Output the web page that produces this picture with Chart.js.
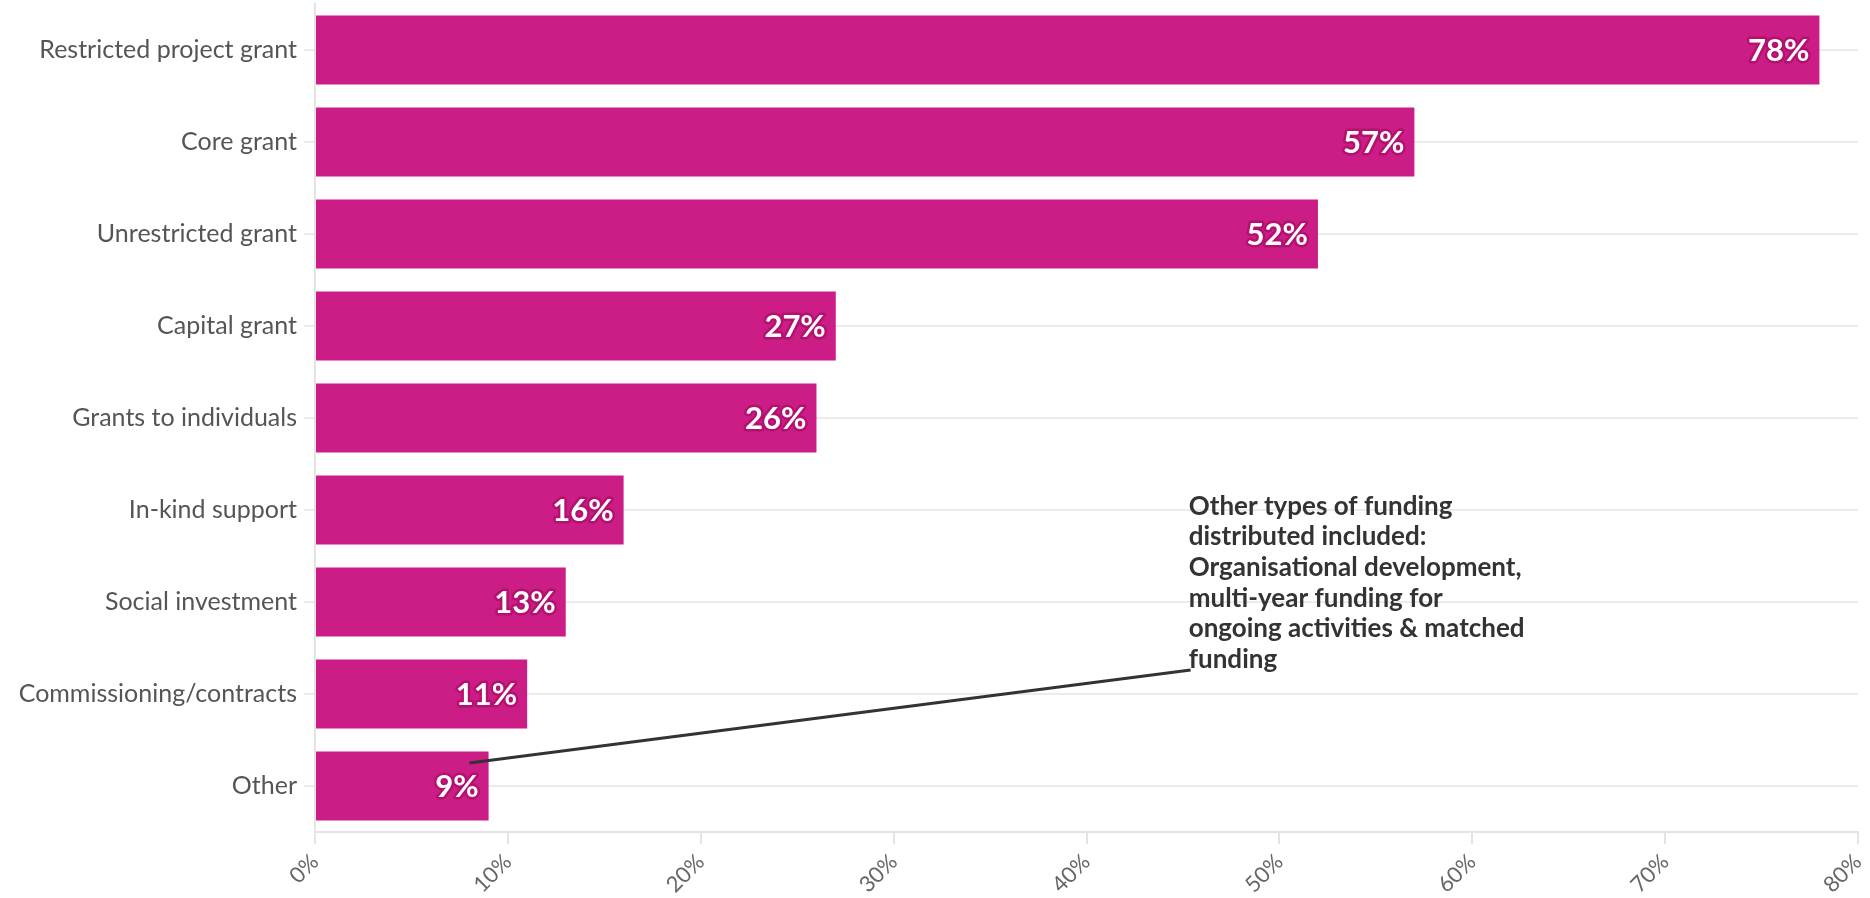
<!DOCTYPE html>
<html lang="en">
<head>
    <meta charset="UTF-8">
    <title>Types of funding distributed</title>
    <style>
        body { margin: 0; background: #fff; }
        #wrap { width: 1870px; height: 898px; position: relative; }
    </style>
</head>
<body>
    <div id="wrap"><canvas id="myChart"></canvas></div>

    <script src="https://cdn.jsdelivr.net/npm/chart.js@4.4.1/dist/chart.umd.min.js"></script>
    <script>
        const categories = [
            "Restricted project grant",
            "Core grant",
            "Unrestricted grant",
            "Capital grant",
            "Grants to individuals",
            "In-kind support",
            "Social investment",
            "Commissioning/contracts",
            "Other"
        ];
        const shares = [78, 57, 52, 27, 26, 16, 13, 11, 9];
        const xTickValues = [0, 10, 20, 30, 40, 50, 60, 70, 80];

        const noteLines = [
            "Other types of funding",
            "distributed included:",
            "Organisational development,",
            "multi-year funding for",
            "ongoing activities & matched",
            "funding"
        ];

        const FONT = "Lato, 'Source Sans Pro', 'Noto Sans', sans-serif";
        const barColor = '#cc1d87';

        // white % labels at the end of each bar, with a pink halo
        const valueLabels = {
            id: 'valueLabels',
            afterDatasetsDraw(chart) {
                const ctx = chart.ctx;
                const meta = chart.getDatasetMeta(0);
                ctx.save();
                ctx.font = "bold 31px " + FONT;
                ctx.textAlign = 'right';
                ctx.textBaseline = 'middle';
                ctx.lineJoin = 'round';
                meta.data.forEach((bar, i) => {
                    const txt = shares[i] + '%';
                    ctx.lineWidth = 5;
                    ctx.strokeStyle = '#b3106f';
                    ctx.strokeText(txt, bar.x - 10, bar.y + 1);
                    ctx.fillStyle = '#ffffff';
                    ctx.fillText(txt, bar.x - 10, bar.y + 1);
                });
                ctx.restore();
            }
        };

        // callout pointing at the "Other" bar
        const note = {
            id: 'note',
            afterDraw(chart) {
                const x = chart.scales.x, y = chart.scales.y;
                const ctx = chart.ctx;
                ctx.save();
                ctx.strokeStyle = '#333333';
                ctx.lineWidth = 3;
                ctx.beginPath();
                ctx.moveTo(x.getPixelForValue(8.0), y.getPixelForValue(7.75));
                ctx.lineTo(x.getPixelForValue(45.4), y.getPixelForValue(6.74));
                ctx.stroke();

                ctx.fillStyle = '#333333';
                ctx.font = "bold 26px " + FONT;
                ctx.textAlign = 'left';
                ctx.textBaseline = 'middle';
                const tx = x.getPixelForValue(45.3);
                const ty = y.getPixelForValue(4.96);
                noteLines.forEach((line, i) => ctx.fillText(line, tx, ty + i * 30.6));
                ctx.restore();
            }
        };

        const ctx = document.getElementById('myChart').getContext('2d');
        const myChart = new Chart(ctx, {
            type: 'bar',
            data: {
                labels: categories,
                datasets: [{
                    data: shares,
                    backgroundColor: barColor,
                    borderWidth: 0,
                    categoryPercentage: 1,
                    barPercentage: 0.75
                }]
            },
            options: {
                indexAxis: 'y',
                responsive: true,
                maintainAspectRatio: false,
                animation: false,
                layout: { padding: { top: 4, right: 12, left: 0, bottom: 0 } },
                plugins: {
                    legend: { display: false },
                    tooltip: { enabled: false }
                },
                scales: {
                    x: {
                        min: 0,
                        max: 80,
                        afterBuildTicks: s => { s.ticks = xTickValues.map(v => ({ value: v })); },
                        afterFit: s => { s.height = 66; s.paddingLeft = 0; s.paddingRight = 0; },
                        grid: {
                            drawOnChartArea: false,
                            drawTicks: true,
                            tickLength: 12,
                            color: '#e4e4e4',
                            lineWidth: 2
                        },
                        border: { display: true, color: '#e4e4e4', width: 2 },
                        ticks: {
                            minRotation: 45,
                            maxRotation: 45,
                            padding: 5,
                            color: '#666666',
                            font: { family: FONT, size: 22 },
                            callback: v => v + '%'
                        }
                    },
                    y: {
                        afterFit: s => { s.width = 315; s.paddingTop = 0; s.paddingBottom = 0; },
                        grid: {
                            offset: false,
                            color: '#ebebeb',
                            lineWidth: 2,
                            tickLength: 11
                        },
                        border: { display: true, color: '#e4e4e4', width: 2 },
                        ticks: {
                            padding: 7,
                            color: '#555555',
                            font: { family: FONT, size: 25 }
                        }
                    }
                }
            },
            plugins: [valueLabels, note]
        });
    </script>
</body>
</html>
